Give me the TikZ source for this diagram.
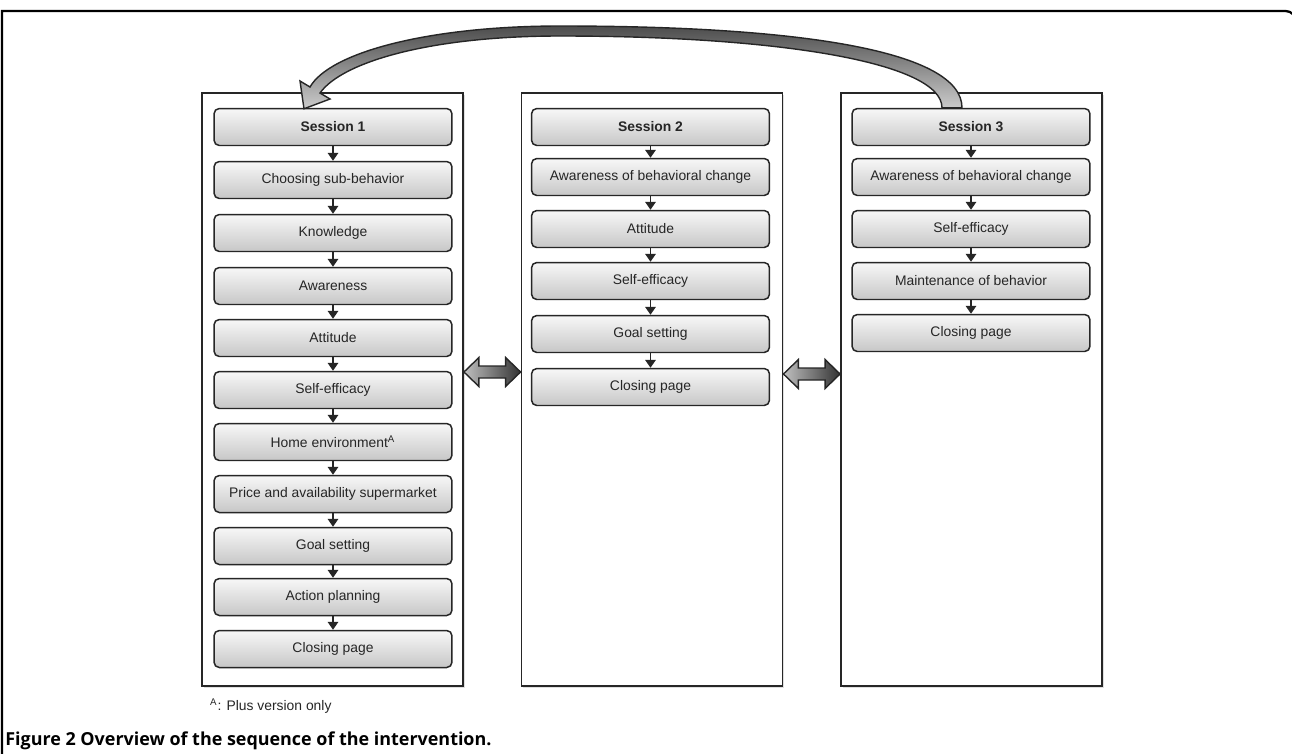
\documentclass[tikz,border=0pt]{standalone}
\usepackage{fontspec}
\setmainfont{Liberation Sans}
\newfontfamily\capfont{Open Sans}
\usetikzlibrary{arrows.meta,calc,shadows}

\begin{document}
\begin{tikzpicture}
	[x=0.02cm,y=-0.02cm,
	every node/.style={font=\fontsize{7.9}{9.5}\selectfont, text=black!85},
	colbox/.style={draw=black!85, line width=1.1pt, fill=white,
		minimum width=5.22cm, minimum height=11.86cm, inner sep=0pt,
		drop shadow={shadow xshift=1pt, shadow yshift=-1pt, opacity=0.25}},
	item/.style={draw=black!85, line width=0.85pt, rounded corners=3pt,
		top color=black!3, bottom color=black!22,
		minimum width=4.76cm, minimum height=0.74cm, inner sep=0pt},
	head/.style={item, font=\fontsize{7.9}{9.5}\selectfont\bfseries},
	flow/.style={-{Triangle[width=6pt,length=4.5pt]}, line width=0.8pt, draw=black!85},
	dbl/.style={draw=black!85, line width=0.8pt, left color=black!25, right color=black!80},
	bigarrow/.style={draw=black!85, line width=0.8pt, top color=black!70, bottom color=black!20}]

	\useasboundingbox (0,0) rectangle (1292,754);

	% frame
	\draw[line width=1.3pt] (2,800) -- (2,11) -- (1250,11) [rounded corners=6pt] -- (1296,11) -- (1296,100);

	% sessions
	\node[colbox] (c1) at (332.5,389.5) {};
	\node[colbox] (c2) at (652,389.5)   {};
	\node[colbox] (c3) at (971.5,389.5) {};

	\node[head] (s1)  at (333,127) {Session 1};
	\node[item] (cs)  at (333,180) {Choosing sub-behavior};
	\node[item] (kn)  at (333,233) {Knowledge};
	\node[item] (aw)  at (333,286) {Awareness};
	\node[item] (at1) at (333,338) {Attitude};
	\node[item] (se1) at (333,390) {Self-efficacy};
	\node[item] (he)  at (333,442) {Home environment\textsuperscript{A}};
	\node[item] (pa)  at (333,494) {Price and availability supermarket};
	\node[item] (gs1) at (333,546) {Goal setting};
	\node[item] (ap)  at (333,597) {Action planning};
	\node[item] (cp1) at (333,649) {Closing page};

	\node[head] (s2)   at (650.5,127) {Session 2};
	\node[item] (abc2) at (650.5,177) {Awareness of behavioral change};
	\node[item] (at2)  at (650.5,229) {Attitude};
	\node[item] (se2)  at (650.5,281) {Self-efficacy};
	\node[item] (gs2)  at (650.5,334) {Goal setting};
	\node[item] (cp2)  at (650.5,387) {Closing page};

	\node[head] (s3)   at (971,127) {Session 3};
	\node[item] (abc3) at (971,177) {Awareness of behavioral change};
	\node[item] (se3)  at (971,229) {Self-efficacy};
	\node[item] (mb)   at (971,281) {Maintenance of behavior};
	\node[item] (cp3)  at (971,333) {Closing page};

	\foreach \from/\to in {s1/cs,cs/kn,kn/aw,aw/at1,at1/se1,se1/he,he/pa,pa/gs1,gs1/ap,ap/cp1,
	s2/abc2,abc2/at2,at2/se2,se2/gs2,gs2/cp2,
	s3/abc3,abc3/se3,se3/mb,mb/cp3}
	\draw[flow] (\from) -- (\to);

	% links between the sessions
	\coordinate (da) at ($(c1.east)+(0,-17.5)$);
	\coordinate (db) at ($(c2.west)+(0,-17.5)$);
	\coordinate (ea) at ($(c2.east)+(0,-15.5)$);
	\coordinate (eb) at ($(c3.west)+(0,-15.5)$);
	\foreach \l/\r in {da/db,ea/eb}
	\path[dbl] (\l) -- ++(15,-14.5) -- ++(0,8.5) -- ($(\r)+(-15,-6)$) -- ++(0,-8.5) -- (\r)
		-- ++(-15,14.5) -- ++(0,-8.5) -- ($(\l)+(15,6)$) -- ++(0,8.5) -- cycle;

	% back to session 1
	\coordinate (tb) at ($(s3.north)+(-19,0)$);
	\coordinate (tt) at ($(s1.north)+(-29,1)$);
	\path[bigarrow] ($(tb)+(10,0)$) .. controls ($(tb)+(10,-57)$) and (800,26) .. (560,26)
		.. controls (430,26) and (330,52) .. (310,87) -- (300,81) -- (tt) -- (330,99) -- (320,93)
		.. controls (342,62) and (430,36) .. (560,36)
		.. controls (780,36) and ($(tb)+(-10,-45)$) .. ($(tb)+(-10,0)$) -- cycle;

	\node[anchor=west] (fn) at (204,706) {\textsuperscript{A}: Plus version only};
	\node[anchor=west, inner sep=0pt, text=black, font=\capfont\fontsize{10.2}{12}\selectfont\bfseries] (cap) at (5,741)
		{Figure 2 Overview of the sequence of the intervention.};
\end{tikzpicture}
\end{document}
